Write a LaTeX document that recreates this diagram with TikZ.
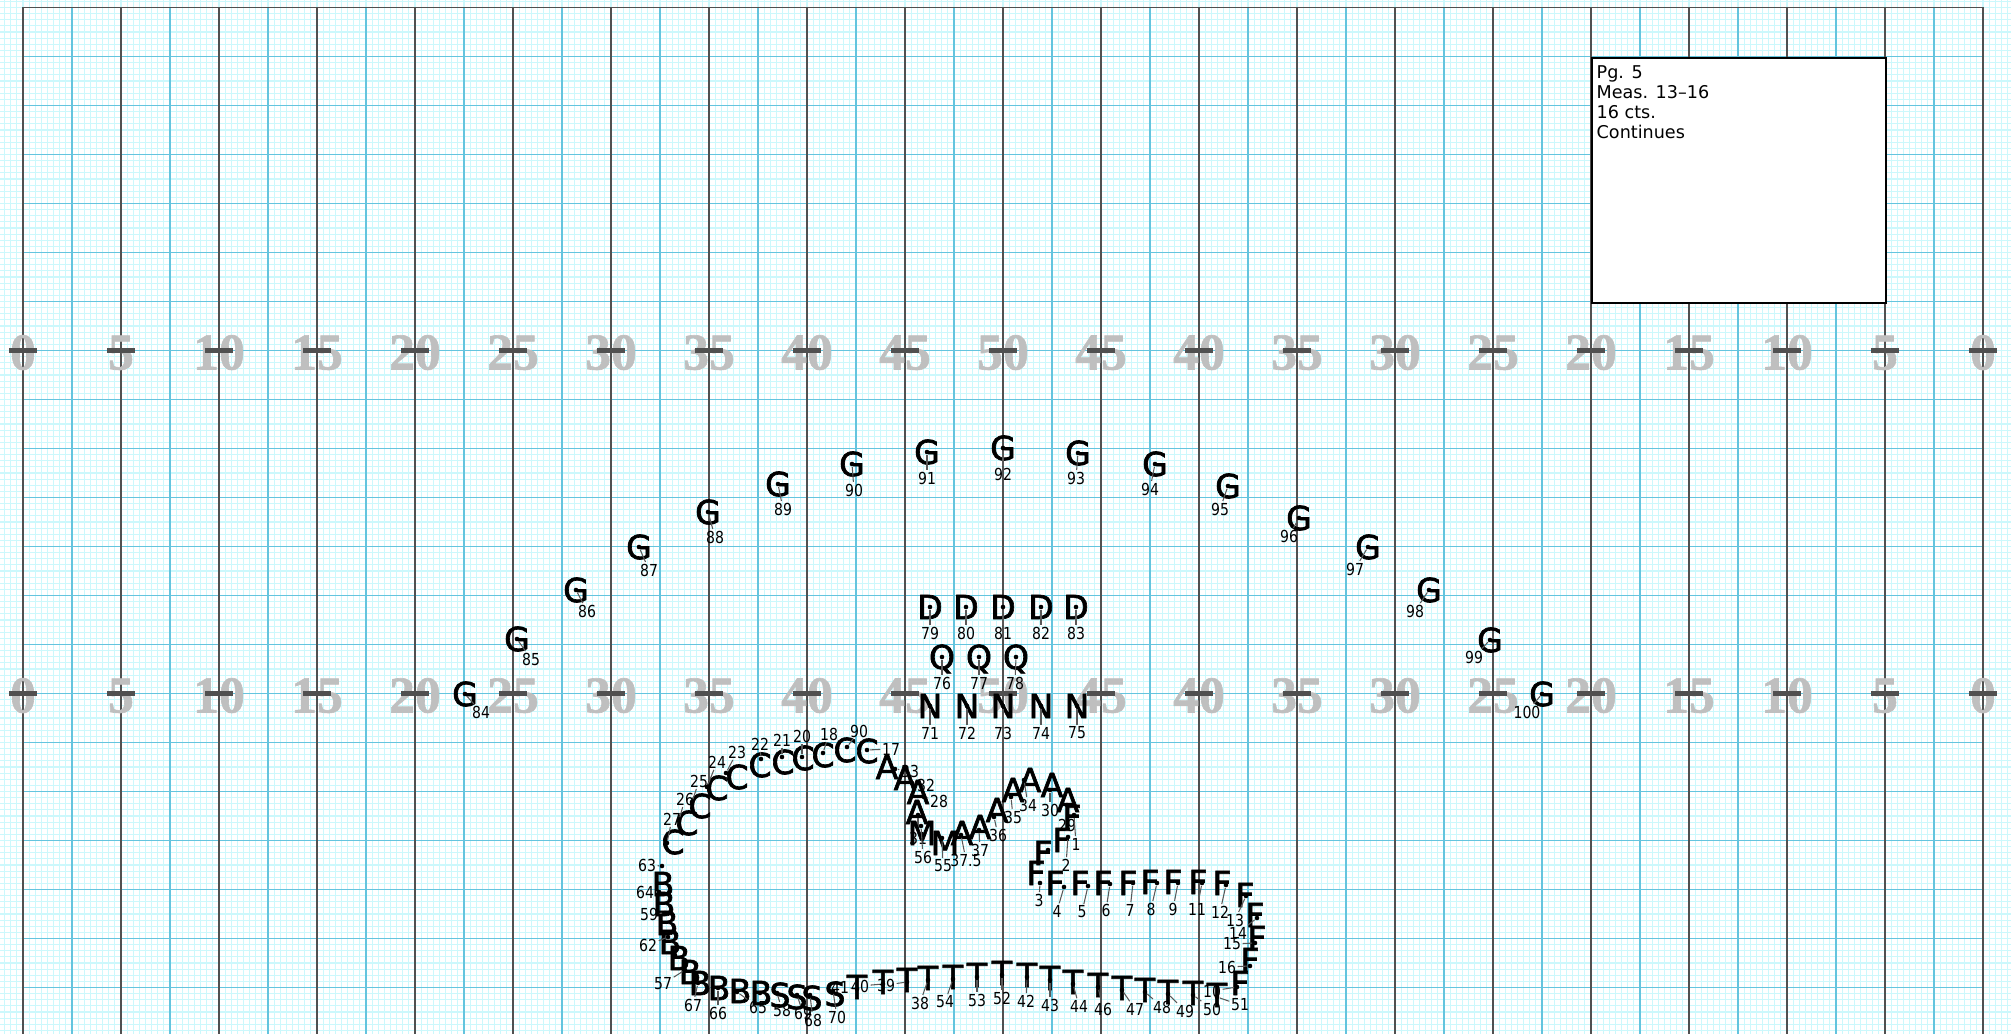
\documentclass[tikz,border=0pt]{standalone}
\usepackage{fontspec}
\setmainfont{DejaVu Sans}
\newfontfamily\yardfont[FakeBold=1.2]{Liberation Serif}
\newfontfamily\symfont[FakeBold=2]{DejaVu Sans}
\newfontfamily\numfont[FakeStretch=0.85]{DejaVu Sans}
\definecolor{fieldline}{RGB}{80,80,80}
\definecolor{gridmid}{RGB}{100,196,222}
\definecolor{gridfine}{RGB}{204,248,252}
\definecolor{yardgray}{RGB}{191,191,191}

\begin{document}
\begin{tikzpicture}[
  x=0.01cm, y=-0.01cm,
  finegrid/.style={gridfine, line width=0.3pt},
  midgrid/.style={gridmid, line width=0.45pt},
  yardline/.style={fieldline, line width=0.45pt},
  hashmark/.style={fieldline, line width=1.3pt},
  yardnum/.style={font=\yardfont\bfseries\fontsize{14.7}{15}\selectfont, text=yardgray,
                  inner sep=0pt, anchor=base},
  drillsym/.style={font=\symfont\fontsize{9.4}{9.4}\selectfont, inner sep=0pt,
                   text height=6.85pt, text depth=0pt},
  spot/.style={circle, fill=black, inner sep=0pt, minimum size=1.3pt},
  numlbl/.style={font=\numfont\fontsize{4.7}{4.7}\selectfont, inner sep=0.3pt},
  leader/.style={draw=black!65, line width=0.3pt},
  infobox/.style={draw, fill=white, line width=0.45pt, inner sep=0pt}
]
  \useasboundingbox (0,0) rectangle (2011,1034);

  \draw[finegrid] \foreach \i in {-3,...,324} {(23+6.125*\i,0) -- (23+6.125*\i,1034)};
  \draw[finegrid] \foreach \j in {-1,...,167} {(0,7.5+6.125*\j) -- (2011,7.5+6.125*\j)};
  \draw[midgrid] \foreach \i in {0,...,40} {(23+49*\i,7.5) -- (23+49*\i,1034)};
  \draw[midgrid] \foreach \j in {1,...,20} {(23,7.5+49*\j) -- (1983,7.5+49*\j)};
  \draw[yardline] \foreach \i in {0,...,20} {(23+98*\i,7.5) -- (23+98*\i,1034)};
  \draw[yardline] (23,7.5) -- (1983,7.5);

  \foreach \i/\v in {0/0,1/5,2/10,3/15,4/20,5/25,6/30,7/35,8/40,9/45,10/50,
                     11/45,12/40,13/35,14/30,15/25,16/20,17/15,18/10,19/5,20/0} {
    \node[yardnum] (yt\i) at (23+98*\i,369.5) {\v};
    \node[yardnum] (yb\i) at (23+98*\i,712.5) {\v};
    \draw[hashmark] (9+98*\i,350.5) -- (37+98*\i,350.5);
    \draw[hashmark] (9+98*\i,693.5) -- (37+98*\i,693.5);
  }

  \node[infobox, anchor=north west, minimum width=2.94cm, minimum height=2.45cm] (info) at (1591,57) {};
  \node[anchor=north west, align=left, inner sep=0pt, font=\fontsize{5}{5.7}\selectfont]
    (infotext) at ([shift={(5,8)}]info.north west) {Pg. 5\\Meas. 13–16\\16 cts.\\Continues};

  \foreach \n/\c/\x/\y/\lab/\tx/\ty in {
      g84/G/465/694/84/481/712, g85/G/517/639/85/531/659, g86/G/576/590/86/587/611,
      g87/G/639/547/87/649/570, g88/G/708/512/88/715/537, g89/G/778/484/89/783/509,
      g90/G/852/464/90/854/490, g91/G/927/452/91/927/478, g92/G/1003/448/92/1003/474,
      g93/G/1078/453/93/1076/478, g94/G/1155/464/94/1150/489, g95/G/1228/486/95/1220/509,
      g96/G/1299/518/96/1289/536, g97/G/1368/547/97/1355/569, g98/G/1429/590/98/1415/611,
      g99/G/1490/640/99/1474/657, g100/G/1542/694/100/1527/712,
      d79/D/930/607/79/930/633, d80/D/966/607/80/966/633, d81/D/1003/607/81/1003/633,
      d82/D/1041/607/82/1041/633, d83/D/1076/607/83/1076/633,
      q76/Q/942/657/76/942/683, q77/Q/979/657/77/979/683, q78/Q/1016/657/78/1015/683,
      n71/N/930/706/71/930/733, n72/N/967/706/72/967/733, n73/N/1003/706/73/1003/733,
      n74/N/1041/706/74/1041/733, n75/N/1077/706/75/1077/733} {
    \node[drillsym] (\n) at (\x,\y) {\c};
    \node[spot] (\n-d) at (\x,\y) {};
    \node[numlbl] (\n-n) at (\tx,\ty) {\lab};
    \draw[leader] (\n-d) -- (\n-n);
  }

  \foreach \n/\c/\x/\y/\lx/\ly/\lab/\tx/\ty in {
      c27/C/667/843/673/842/27/672/819, c26/C/679/820/687/823/26/685/799,
      c25/C/692/802/700/806/25/699/781, c24/C/707/787/717/788/24/717/762,
      c23/C/726/773/737/777/23/737/752, c22/C/761/759/760/765/22/760/744,
      c21/C/782/757/783/762/21/782/740, c20/C/802/757/803/758/20/802/736,
      c18/C/823/753/823/755/18/829/734, c19/C/847/747/845/750/90/859/731,
      c17/C/867/750/867/751/17/891/749,
      a33/A/895/769/887/767/33/910/771, a32/A/912/783/905/778/32/926/785,
      a28/A/924/797/918/792/28/939/801, a31/A/918/815/917/812/31/918/838,
      m56/M/921/826/922/833/56/923/857, m55/M/942/838/945/843/55/943/866,
      a375/A/961/835/962/833/37.5/966/860, a37/A/979/830/980/827/37/980/850,
      a36/A/994/817/997/810/36/998/835, a35/A/1011/797/1013/790/35/1013/817,
      a34/A/1024/780/1030/780/34/1028/805, a30/A/1050/790/1052/785/30/1050/810,
      a29/A/1067/805/1068/800/29/1067/825,
      f1/F/1074/815/1072/817/1/1076/844, f2/F/1068/837/1062/840/2/1066/865,
      f3/F/1040/883/1036/873/3/1039/900, f4/F/1064/887/1055/883/4/1057/911,
      f5/F/1088/886/1080/883/5/1082/912, f6/F/1110/884/1103/883/6/1106/910,
      f7/F/1133/883/1128/883/7/1130/910, f8/F/1157/883/1150/882/8/1151/909,
      f9/F/1178/883/1173/882/9/1173/909, f11/F/1202/883/1198/882/11/1197/909,
      f12/F/1226/885/1222/883/12/1220/912, f13/F/1246/896/1245/895/13/1235/920,
      f14/F/1257/918/1255/915/14/1238/933, f15/F/1255/943/1257/938/15/1232/944,
      f16/F/1250/966/1250/960/16/1227/967, f10/F/1237/987/1240/983/10/1212/991,
      t41/T/857/989/857/987/41/840/987, t40/T/883/984/883/982/40/860/986,
      t39/T/907/982/907/980/39/886/985, t38/T/928/980/928/978/38/920/1003,
      t54/T/953/979/953/977/54/945/1002, t53/T/977/977/977/975/53/977/1000,
      t52/T/1002/975/1002/973/52/1002/998, t42/T/1027/977/1027/975/42/1026/1001,
      t43/T/1050/980/1050/978/43/1050/1005, t44/T/1073/984/1073/982/44/1079/1006,
      t46/T/1098/987/1098/985/46/1103/1009, t47/T/1122/990/1122/988/47/1135/1009,
      t48/T/1145/992/1145/990/48/1162/1007, t49/T/1168/994/1168/992/49/1185/1011,
      t50/T/1193/995/1193/993/50/1212/1009, t51/T/1217/997/1217/995/51/1240/1005,
      s58/S/777/993/780/995/58/782/1010, s69/S/797/995/797/997/69/803/1013,
      s68/S/810/995/812/998/68/813/1020, s70/S/833/991/835/994/70/837/1017,
      b63/B/662/866/663/884/63/647/865, b64/B/659/892/664/904/64/645/892,
      b59/B/665/913/667/923/59/649/914, b62/B/668/937/670/942/62/648/945,
      b57/B/685/970/690/972/57/663/984, b67/B/698/983/700/983/67/693/1005,
      b66/B/718/988/719/988/66/718/1013, b65/B/737/992/740/991/65/758/1007} {
    \node[drillsym] (\n) at (\lx,\ly) {\c};
    \node[spot] (\n-d) at (\x,\y) {};
    \node[numlbl] (\n-n) at (\tx,\ty) {\lab};
    \draw[leader] (\n-d) -- (\n-n);
  }

  \foreach \n/\c/\x/\y/\lx/\ly in {fx/F/1048/850/1043/853, b60/B/675/955/679/958, b61/B/760/993/761/993} {
    \node[drillsym] (\n) at (\lx,\ly) {\c};
    \node[spot] (\n-d) at (\x,\y) {};
  }
\end{tikzpicture}
\end{document}
